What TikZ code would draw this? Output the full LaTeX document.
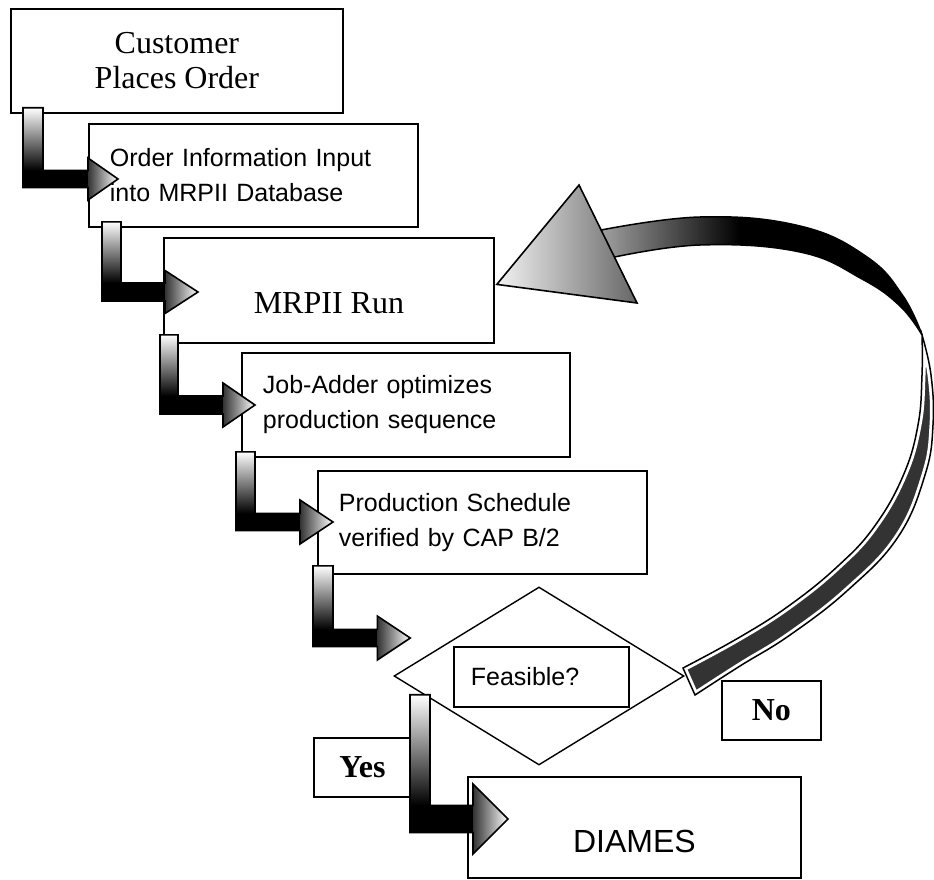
\documentclass[tikz,border=0pt]{standalone}
\usepackage{fontspec}
\setmainfont{Liberation Serif}
\setsansfont{Liberation Sans}
\usetikzlibrary{shapes.geometric,calc}
\tikzset{
  box/.style={draw=black, line width=1.8pt, fill=white, rectangle, inner sep=0pt, anchor=north west},
  sanslab/.style={font=\sffamily\fontsize{25}{35}\selectfont, align=left, inner xsep=21pt},
  seriflab/.style={font=\rmfamily\fontsize{32}{35}\selectfont, align=center},
  boldlab/.style={font=\rmfamily\bfseries\fontsize{32}{36}\selectfont},
  outl/.style={draw=black, line width=1.6pt, line join=miter},
}
\newcommand\bendarrow[6]{%
  \path let \p1=(#1), \p2=(#2) in
    coordinate (P1) at (\x1,\y1)
    coordinate (P2) at ({\x1+#3pt},\y1)
    coordinate (P3) at ({\x1+#3pt},{\y2+#4pt})
    coordinate (P4) at (\x2,{\y2+#4pt})
    coordinate (P5) at (\x2,{\y2+#5pt})
    coordinate (P6) at ({\x2+#6pt},\y2)
    coordinate (P7) at (\x2,{\y2-#5pt})
    coordinate (P8) at (\x2,{\y2-#4pt})
    coordinate (P9) at (\x1,{\y2-#4pt});
  \fill[black] (P9) rectangle (P4);
  \shade[top color=white, middle color=black!65, bottom color=black] (P1) rectangle (P3);
  \shade[left color=black!80, right color=white] (P5) -- (P6) -- (P7) -- cycle;
  \draw[outl] (P1) -- (P2) -- (P3) -- (P4) -- (P5) -- (P6) -- (P7) -- (P8) -- (P9) -- cycle;
}
\def\upperband{plot[smooth, tension=0.7] coordinates {(596,231) (700,217) (800,226) (867,257) (903,296) (922,335)} -- plot[smooth, tension=0.7] coordinates {(922,335) (900,306) (862,279) (800,252) (700,245) (610,258)} -- cycle}
\def\lowerband{plot[smooth, tension=0.7] coordinates {(922,335) (931,375) (933,425) (925,475) (898,537) (848,590) (790,635) (740,666) (695,695)} -- plot[smooth, tension=0.7] coordinates {(683,668) (740,637) (790,605) (838,566) (874,527) (903,476) (918,425) (922,375) (922,335)} -- cycle}
\begin{document}
\begin{tikzpicture}[x=1pt,y=-1pt]
\useasboundingbox (0,0) rectangle (934,880);
% boxes
\node[box, seriflab, minimum width=332pt, minimum height=104pt] (b1) at (10,8) {Customer\\Places Order};
\node[box, sanslab, text width=287pt, minimum height=103pt] (b2) at (88,123) {Order Information Input\\into MRPII Database};
\node[box, font=\rmfamily\fontsize{32}{35}\selectfont, minimum width=330pt, minimum height=105pt, text height=47pt, text depth=0pt] (b3) at (163,237) {MRPII Run};
\node[box, sanslab, text width=286pt, minimum height=104pt] (b4) at (241,352) {Job-Adder optimizes\\production sequence};
\node[box, sanslab, text width=287pt, minimum height=103pt] (b5) at (317,470) {Production Schedule\\verified by CAP B/2};
\node[diamond, draw=black, line width=1.4pt, fill=white, minimum width=290pt, minimum height=178pt, inner sep=0pt] (dm) at (539,676) {};
\node[box, font=\sffamily\fontsize{25}{30}\selectfont, align=left, text width=141pt, inner xsep=17pt, minimum height=60pt] (fb) at (453,646) {Feasible?};
\node[box, boldlab, minimum width=99pt, minimum height=59pt] (no) at (721,680) {No};
\node[box, boldlab, minimum width=97pt, minimum height=59pt] (yes) at (313,737) {Yes};
\node[box, font=\sffamily\fontsize{32}{36}\selectfont, minimum width=333pt, minimum height=101pt, text height=51pt, text depth=0pt] (di) at (467,776) {DIAMES};
% bent block arrows
\bendarrow{$(b1.south west)+(13,-6)$}{$(b2.north west)+(0,56)$}{20}{8.5}{21}{30}
\bendarrow{$(b2.south west)+(14,-6)$}{$(b3.north west)+(2,55)$}{19}{9}{21.5}{33}
\bendarrow{$(b3.south west)+(-3,-9)$}{$(b4.north west)+(-18,53)$}{18}{9}{22}{32}
\bendarrow{$(b4.south west)+(-5,-6)$}{$(b5.north west)+(-17,52)$}{19}{8.5}{22}{33}
\bendarrow{$(b5.south west)+(-4,-9)$}{$(dm.west)+(-16,-38)$}{20}{8.5}{22}{33}
\bendarrow{$(dm.south)+(-129,-71)$}{$(di.north west)+(6,43)$}{20}{13.5}{35}{35}
% curved feedback arrow (No)
\begin{scope}
  \clip \lowerband;
  \fill[black!80] \lowerband;
  \draw[white, line width=7pt] \lowerband;
\end{scope}
\draw[black, line width=1.5pt] \lowerband;
\begin{scope}
  \clip \upperband;
  \fill[black] \upperband;
  \shade[left color=black!35, right color=black] (596,200) rectangle (740,270);
\end{scope}
\draw[black, line width=1.5pt] \upperband;
\coordinate (htip) at ($(b3.east)+(2,-6)$);
\shadedraw[left color=black!5, right color=black!60, draw=black, line width=1.6pt, line join=miter] (htip) -- (579,185) -- (637,303) -- cycle;
\end{tikzpicture}
\end{document}
